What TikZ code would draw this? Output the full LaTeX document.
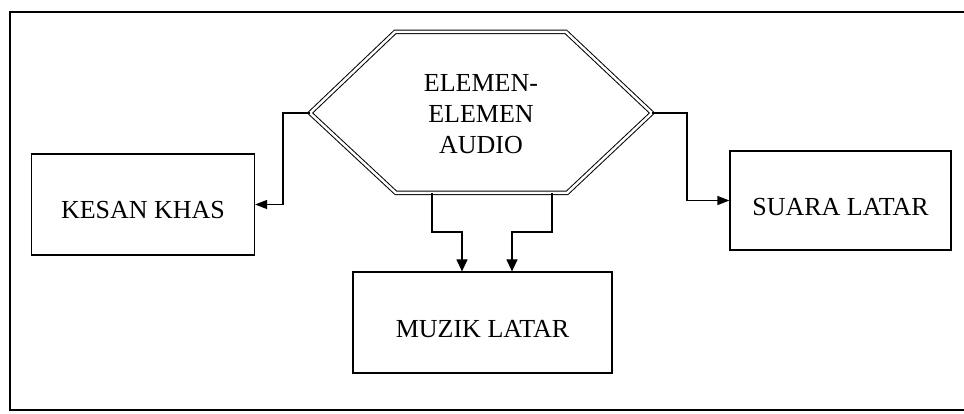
\documentclass[tikz,border=0pt]{standalone}
\usepackage{fontspec}
\setmainfont{Liberation Serif}
\usetikzlibrary{arrows.meta}
\begin{document}
\begin{tikzpicture}[x=1pt,y=-1pt,
  ln/.style={line width=1.2pt},
  box/.style={draw,line width=1.2pt,minimum width=#1,inner sep=0pt},
  txt/.style={font=\fontsize{26}{31}\selectfont,anchor=base,inner sep=0pt},
  arr/.style={ln,-{Triangle[length=12pt,width=11pt]}},
  sarr/.style={ln,-{Triangle[length=12pt,width=9pt]}}]
\useasboundingbox (0,0) rectangle (964,414);
% frame
\draw[ln] (964,12) -- (10,12) -- (10,410) -- (964,410);
% hexagon
\coordinate (hL) at (310,113);
\coordinate (hR) at (652,113);
\coordinate (hb1) at (432,193);
\coordinate (hb2) at (552,193);
\draw[line width=1pt,double,double distance=2.5pt] (hL) -- (395,32) -- (566,32) -- (hR) -- (567,193) -- (396,193) -- cycle;
\node[font=\fontsize{26}{31}\selectfont,align=center,inner sep=0pt] (hex) at (481,114) {ELEMEN-\\ELEMEN\\AUDIO};
% boxes
\node[box=223pt,minimum height=101pt] (kb) at (143,204.5) {};
\node[txt] (kt) at ([yshift=-14pt]kb.center) {KESAN KHAS};
\node[box=221pt,minimum height=99pt] (sb) at (840.5,200.5) {};
\node[txt] (st) at ([yshift=-15pt]sb.center) {SUARA LATAR};
\node[box=259pt,minimum height=101pt] (mb) at (482.5,322.5) {};
\node[txt] (mt) at ([yshift=-15pt]mb.center) {MUZIK LATAR};
% connectors
\coordinate (cl) at (283,113);
\coordinate (cr) at (687,113);
\coordinate (m1) at (462,232);
\coordinate (m2) at (512,232);
\draw[sarr] (hL) -- (cl) |- (kb.east);
\draw[sarr] (hR) -- (cr) |- (sb.west);
\draw[arr] (hb1) |- (m1) -- (m1 |- mb.north);
\draw[arr] (hb2) |- (m2) -- (m2 |- mb.north);
\end{tikzpicture}
\end{document}
